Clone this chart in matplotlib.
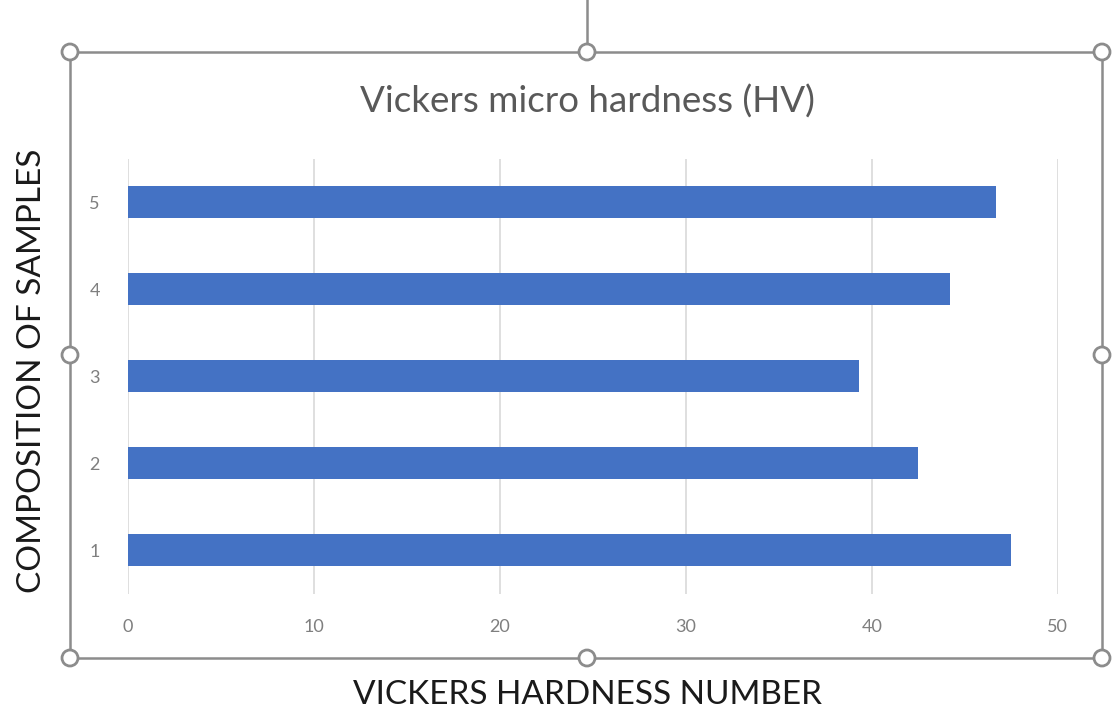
import matplotlib.pyplot as plt
from matplotlib.patches import Circle
from matplotlib.lines import Line2D

# Hardness per sample composition
samples = ["1", "2", "3", "4", "5"]
hardness = [47.5, 42.5, 39.3, 44.2, 46.7]
x_ticks = [0, 10, 20, 30, 40, 50]

plt.rcParams["font.family"] = ["Lato", "DejaVu Sans"]

fig = plt.figure(figsize=(11.14, 7.15), dpi=100)
ax = fig.add_axes([0.1145, 0.1699, 0.835, 0.6084])

pos = list(range(1, len(samples) + 1))
ax.barh(pos, hardness, height=0.36, color="#4472C4", zorder=3)

ax.set_xlim(0, 50)
ax.set_ylim(0.5, 5.5)
ax.set_xticks(x_ticks)
ax.set_yticks(pos)
ax.set_yticklabels(samples)
ax.tick_params(axis="both", length=0, labelsize=13, labelcolor="#7f7f7f")
ax.tick_params(axis="x", pad=18)
ax.tick_params(axis="y", pad=20)
ax.grid(axis="x", color="#d9d9d9", linewidth=1.2, zorder=0)
for s in ax.spines.values():
    s.set_visible(False)

fig.text(0.527, 0.858, "Vickers micro hardness (HV)", ha="center", va="center",
         fontsize=26.5, color="#595959")
fig.text(0.527, 0.028, "VICKERS HARDNESS NUMBER", ha="center", va="center",
         fontsize=24, color="#1a1a1a")
fig.text(0.029, 0.482, "COMPOSITION OF SAMPLES", ha="center", va="center",
         rotation=90, fontsize=24, color="#1a1a1a")

# Selection frame with handles around the chart area
W, H = 1114, 715
x0, x1, y0, y1 = 70, 1102, 52, 658
xm, ym = 587, 355
edge = "#8c8c8c"
fx = lambda v: v / W
fy = lambda v: 1 - v / H
for (xa, ya, xb, yb) in [(x0, y0, x1, y0), (x0, y1, x1, y1), (x0, y0, x0, y1),
                         (x1, y0, x1, y1), (xm, 0, xm, y0)]:
    fig.add_artist(Line2D([fx(xa), fx(xb)], [fy(ya), fy(yb)], color=edge,
                          linewidth=1.8, transform=fig.transFigure))
for (hx, hy) in [(x0, y0), (xm, y0), (x1, y0), (x0, ym), (x1, ym),
                 (x0, y1), (xm, y1), (x1, y1)]:
    c = Circle((hx, H - hy), 8, transform=None, facecolor="white",
               edgecolor=edge, linewidth=2, zorder=10)
    fig.add_artist(c)

fig.savefig("out.png", dpi=100)
